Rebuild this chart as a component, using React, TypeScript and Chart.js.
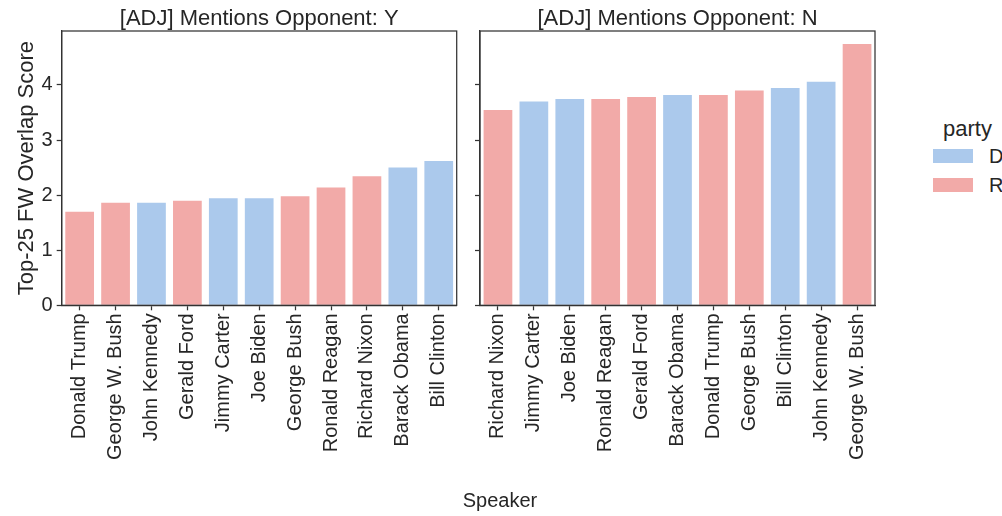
import React, { useEffect, useRef } from 'react';
import { Chart, registerables } from 'chart.js';

Chart.register(...registerables);

const FONT = '"Liberation Sans", Arial, Helvetica, sans-serif';
const TEXT = '#262626';
const EDGE = '#333333';
const BLUE = '#abc9ec';
const RED = '#f2aaa8';

const partyNames = ['D', 'R'];
const partyColors: Record<string, string> = { D: BLUE, R: RED };

const yTicks = [0, 1, 2, 3, 4];
const yMax = 4.98;

const leftTitle = '[ADJ] Mentions Opponent: Y';
const leftSpeakers = ['Donald Trump', 'George W. Bush', 'John Kennedy', 'Gerald Ford', 'Jimmy Carter', 'Joe Biden', 'George Bush', 'Ronald Reagan', 'Richard Nixon', 'Barack Obama', 'Bill Clinton'];
const leftScores = [1.70, 1.86, 1.86, 1.90, 1.945, 1.945, 1.98, 2.14, 2.345, 2.50, 2.62];
const leftParty = ['R', 'R', 'D', 'R', 'D', 'D', 'R', 'R', 'R', 'D', 'D'];

const rightTitle = '[ADJ] Mentions Opponent: N';
const rightSpeakers = ['Richard Nixon', 'Jimmy Carter', 'Joe Biden', 'Ronald Reagan', 'Gerald Ford', 'Barack Obama', 'Donald Trump', 'George Bush', 'Bill Clinton', 'John Kennedy', 'George W. Bush'];
const rightScores = [3.545, 3.70, 3.745, 3.745, 3.78, 3.82, 3.82, 3.90, 3.945, 4.06, 4.745];
const rightParty = ['R', 'D', 'D', 'R', 'R', 'D', 'R', 'R', 'D', 'D', 'R'];

const yAxisTitle = 'Top-25 FW Overlap Score';
const xAxisTitle = 'Speaker';
const legendTitle = 'party';

const CHART_BOTTOM = 305.3;
const PLOT_W = 395;
const H = 516;

const framePlugin = {
  id: 'frame',
  afterDatasetsDraw(chart: any) {
    const { ctx, chartArea: a } = chart;
    ctx.save();
    ctx.strokeStyle = EDGE;
    ctx.lineWidth = 1.25;
    ctx.strokeRect(a.left, a.top, a.right - a.left, a.bottom - a.top);
    ctx.restore();
  },
};

function Panel(props: { left: number; width: number; labels: string[]; values: number[]; parties: string[]; title: string; showY: boolean }) {
  const { left, width, labels, values, parties, title, showY } = props;
  const ref = useRef<HTMLCanvasElement>(null);
  useEffect(() => {
    const chartLeft = showY ? 61.7 : 18;
    const padRight = width - chartLeft - PLOT_W;
    const gridOpts = {
      display: true,
      drawOnChartArea: false,
      drawTicks: true,
      tickLength: 5,
      tickColor: EDGE,
      tickWidth: 1.25,
      offset: false,
    };
    const chart = new Chart(ref.current as HTMLCanvasElement, {
      type: 'bar',
      data: {
        labels,
        datasets: [
          {
            data: values,
            backgroundColor: parties.map((p) => partyColors[p]),
            barPercentage: 0.8,
            categoryPercentage: 1,
          },
        ],
      },
      options: {
        responsive: false,
        animation: false,
        devicePixelRatio: 1,
        layout: { padding: { left: 0, right: padRight, top: 0, bottom: 0 } },
        plugins: {
          legend: { display: false },
          tooltip: { enabled: false },
          title: {
            display: true,
            text: title,
            fullSize: false,
            color: TEXT,
            font: { family: FONT, size: 22, weight: 'normal', lineHeight: 1.1 },
            padding: { top: 6.6, bottom: 0.2 },
          },
        },
        scales: {
          x: {
            grid: gridOpts,
            border: { display: true, color: EDGE, width: 1.25 },
            ticks: {
              color: TEXT,
              font: { family: FONT, size: 20 },
              minRotation: 90,
              maxRotation: 90,
              autoSkip: false,
              padding: 3,
            },
            afterFit: (s: any) => {
              s.height = H - CHART_BOTTOM;
              s.paddingLeft = 0;
              s.paddingRight = 0;
            },
          },
          y: {
            min: 0,
            max: yMax,
            afterBuildTicks: (s: any) => {
              s.ticks = yTicks.map((v) => ({ value: v }));
            },
            grid: gridOpts,
            border: { display: true, color: EDGE, width: 1.25 },
            ticks: {
              display: showY,
              color: TEXT,
              font: { family: FONT, size: 20 },
              padding: 4,
            },
            title: {
              display: showY,
              text: yAxisTitle,
              color: TEXT,
              font: { family: FONT, size: 22, lineHeight: 1.2 },
              padding: { top: 13.5, bottom: 0 },
            },
            afterFit: (s: any) => {
              s.width = chartLeft;
            },
          },
        },
      } as any,
      plugins: [framePlugin],
    });
    return () => chart.destroy();
  }, []);
  return (
    <canvas
      ref={ref}
      width={width}
      height={H}
      style={{ position: 'absolute', left, top: 0, width, height: H }}
    />
  );
}

export default function App() {
  const textStyle: React.CSSProperties = {
    position: 'absolute',
    fontFamily: FONT,
    color: TEXT,
    whiteSpace: 'nowrap',
  };
  return (
    <div style={{ position: 'absolute', left: 0, top: 0, width: 1002, height: H, overflow: 'hidden', background: '#fff' }}>
      <Panel left={0} width={470} labels={leftSpeakers} values={leftScores} parties={leftParty} title={leftTitle} showY={true} />
      <Panel left={462} width={430} labels={rightSpeakers} values={rightScores} parties={rightParty} title={rightTitle} showY={false} />
      <div style={{ ...textStyle, left: 400, width: 200, textAlign: 'center', top: 490, fontSize: 20, lineHeight: '20px' }}>{xAxisTitle}</div>
      <div style={{ ...textStyle, left: 943, top: 117.5, fontSize: 22, lineHeight: '22px' }}>{legendTitle}</div>
      {partyNames.map((p, i) => (
        <React.Fragment key={p}>
          <div style={{ position: 'absolute', left: 933, top: 149 + i * 29, width: 40, height: 13.5, background: partyColors[p] }} />
          <div style={{ ...textStyle, left: 989, top: 146 + i * 29, fontSize: 20, lineHeight: '20px' }}>{p}</div>
        </React.Fragment>
      ))}
    </div>
  );
}
